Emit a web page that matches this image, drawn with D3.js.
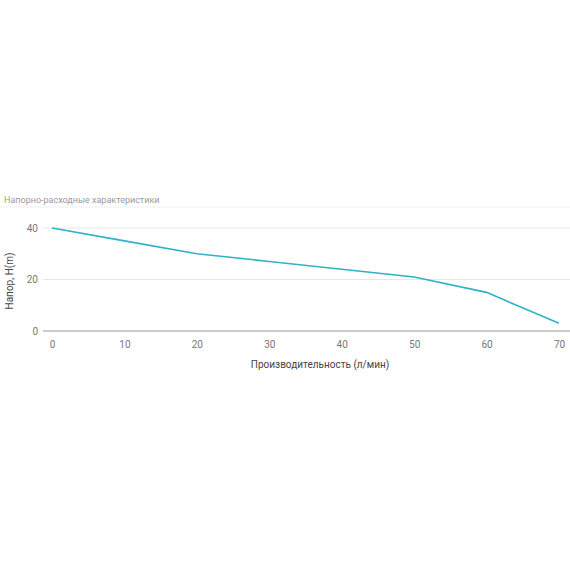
<!DOCTYPE html>
<html>
<head>
<meta charset="utf-8">
<script src="https://cdn.jsdelivr.net/npm/d3@7"></script>
<style>
  body { margin: 0; background: #fff; }
  text { font-family: Roboto, "Noto Sans", sans-serif; }
  .tick text { fill: #777; font-size: 10px; }
  .title { fill: #9a9a9a; font-size: 9px; }
  .axis-title { fill: #444; font-size: 10px; }
</style>
</head>
<body>
<svg width="570" height="570"></svg>
<script>
const flow = [0, 10, 20, 30, 40, 50, 60, 70];
const head = [40, 35, 30, 27, 24, 21, 15, 3];
const xTicks = [0, 10, 20, 30, 40, 50, 60, 70];
const yTicks = [0, 20, 40];

const svg = d3.select("svg");
const x = d3.scaleLinear().domain([0, 70]).range([52, 559]);
const y = d3.scaleLinear().domain([0, 40]).range([331, 228]);

svg.append("text").attr("class", "title").attr("x", 4).attr("y", 203)
  .text("Напорно-расходные характеристики");

// top frame line
svg.append("line").attr("x1", 0).attr("x2", 570).attr("y1", 207).attr("y2", 207)
  .attr("stroke", "#f0f0f0");

const yAxis = svg.append("g").attr("transform", "translate(42,0)")
  .call(d3.axisLeft(y).tickValues(yTicks).tickSize(0).tickPadding(4));
yAxis.select(".domain").remove();

svg.append("g").selectAll("line").data(yTicks).enter().append("line")
  .attr("x1", 43).attr("x2", 570)
  .attr("y1", d => y(d)).attr("y2", d => y(d))
  .attr("stroke", d => d === 0 ? "#bbb" : "#e6e6e6")
  .attr("stroke-width", d => d === 0 ? 1.5 : 1);

const xAxis = svg.append("g").attr("transform", "translate(0,336)")
  .call(d3.axisBottom(x).tickValues(xTicks).tickSize(0).tickPadding(5));
xAxis.select(".domain").remove();

svg.append("path").datum(flow.map((f, i) => [f, head[i]]))
  .attr("fill", "none").attr("stroke", "#2fb2c8").attr("stroke-width", 1.6)
  .attr("d", d3.line().x(d => x(d[0])).y(d => y(d[1])));

svg.append("text").attr("class", "axis-title").attr("x", 320).attr("y", 368)
  .attr("text-anchor", "middle").text("Производительность (л/мин)");

svg.append("text").attr("class", "axis-title")
  .attr("transform", "translate(13,281) rotate(-90)")
  .attr("text-anchor", "middle").text("Напор, H(m)");
</script>
</body>
</html>
